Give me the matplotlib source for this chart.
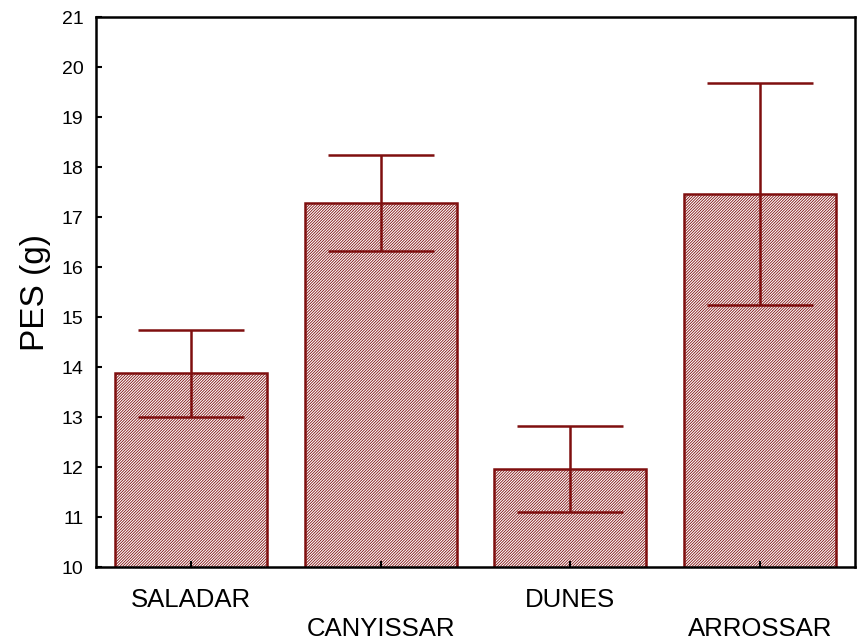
import matplotlib.pyplot as plt
import numpy as np

plt.rcParams['font.family'] = ['Liberation Sans', 'DejaVu Sans']
plt.rcParams['hatch.linewidth'] = 0.6

# mitjanes de pes per habitat i error
habitats = ['SALADAR', 'CANYISSAR', 'DUNES', 'ARROSSAR']
pes_mitja = [13.88, 17.28, 11.97, 17.47]
error = [0.87, 0.96, 0.86, 2.22]

color = '#7f0f0f'

fig = plt.figure(figsize=(8.61, 6.40), dpi=100)
ax = fig.add_axes([0.1115, 0.114, 0.8815, 0.859])

x = np.arange(len(habitats))
ax.bar(x, pes_mitja, width=0.8, bottom=0, color='white', edgecolor=color,
       hatch='/' * 12, linewidth=1.8)
ax.errorbar(x, pes_mitja, yerr=error, fmt='none', ecolor=color,
            elinewidth=1.8, capsize=38, capthick=1.8)

ax.set_xlim(-0.5, 3.5)
ax.set_ylim(10, 21)
ax.set_yticks(range(10, 22))
ax.set_xticks(x)
ax.set_xticklabels([])
ax.tick_params(direction='in', length=4, width=1.5, labelsize=14)
ax.tick_params(axis='y', pad=9)

# etiquetes alternades a dues alçades
for i, nom in enumerate(habitats):
    y = -0.06 if i % 2 == 0 else -0.112
    ax.text(i, y, nom, transform=ax.get_xaxis_transform(), ha='center',
            va='center', fontsize=18.5)

ax.set_ylabel('PES (g)', fontsize=24, labelpad=8)
for s in ax.spines.values():
    s.set_linewidth(1.8)

fig.savefig('out.png', dpi=100)
